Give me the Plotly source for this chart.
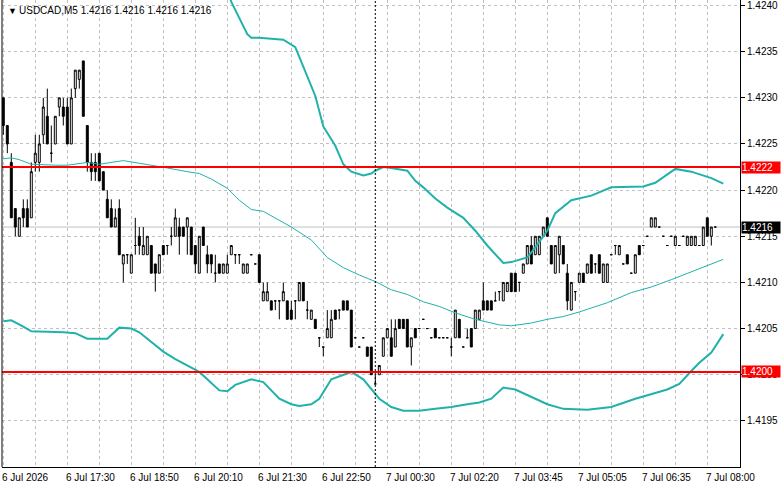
import plotly.graph_objects as go

# ---------------- data ----------------
bar_index = list(range(179))

open_ = [1.4230,1.4227,1.4223,1.4218,1.4215,1.4218,1.4218,1.4217,1.4223,1.4223,
 1.4226,1.4228,1.4224,1.4225,1.4229,1.4229,1.4229,1.4225,1.4231,1.4232,
 1.4234,1.4227,1.4223,1.4223,1.4224,1.4222,1.4219,1.4218,1.4216,1.4218,
 1.4212,1.4213,1.4211,1.4214,1.4215,1.4213,1.4213,1.4214,1.4212,1.4211,
 1.4214,1.4214,1.4215,1.4215,1.4216,1.4216,1.4216,1.4216,1.4214,1.4211,
 1.4216,1.4213,1.4213,1.4211,1.4212,1.4211,1.4211,1.4213,1.4213,1.4213,
 1.4211,1.4211,1.4213,1.4212,1.4213,1.4208,1.4208,1.4208,1.4208,1.4208,
 1.4208,1.4208,1.4207,1.4208,1.4208,1.4210,1.4207,1.4206,1.4206,1.4204,
 1.4203,1.4204,1.4204,1.4207,1.4207,1.4208,1.4208,1.4207,1.4204,1.4203,
 1.4204,1.4203,1.4203,1.4199,1.4200,1.4202,1.4204,1.4204,1.4203,1.4206,
 1.4206,1.4206,1.4203,1.4205,1.4205,1.4206,1.4205,1.4204,1.4205,1.4204,
 1.4204,1.4204,1.4203,1.4204,1.4206,1.4203,1.4204,1.4205,1.4205,1.4206,
 1.4208,1.4208,1.4208,1.4208,1.4209,1.4208,1.4209,1.4211,1.4211,1.4210,
 1.4211,1.4212,1.4214,1.4213,1.4213,1.4215,1.4217,1.4214,1.4211,1.4213,
 1.4214,1.4211,1.4207,1.4209,1.4210,1.4211,1.4211,1.4213,1.4212,1.4213,
 1.4210,1.4210,1.4213,1.4214,1.4213,1.4212,1.4213,1.4211,1.4211,1.4214,
 1.4214,1.4215,1.4216,1.4216,1.4216,1.4215,1.4214,1.4215,1.4214,1.4214,
 1.4215,1.4214,1.4214,1.4214,1.4214,1.4214,1.4217,1.4215,1.4216]

high = [1.4230,1.4227,1.4224,1.4218,1.4217,1.4219,1.4219,1.4223,1.4226,1.4226,
 1.4230,1.4231,1.4227,1.4228,1.4230,1.4230,1.4230,1.4231,1.4233,1.4233,
 1.4234,1.4227,1.4224,1.4224,1.4224,1.4222,1.4220,1.4219,1.4218,1.4219,
 1.4213,1.4213,1.4213,1.4217,1.4216,1.4216,1.4215,1.4214,1.4212,1.4213,
 1.4214,1.4214,1.4216,1.4218,1.4217,1.4216,1.4217,1.4216,1.4214,1.4215,
 1.4216,1.4214,1.4213,1.4213,1.4212,1.4212,1.4213,1.4214,1.4213,1.4213,
 1.4212,1.4212,1.4213,1.4212,1.4213,1.4210,1.4210,1.4208,1.4208,1.4208,
 1.4210,1.4208,1.4208,1.4208,1.4210,1.4210,1.4208,1.4207,1.4206,1.4204,
 1.4203,1.4207,1.4207,1.4207,1.4207,1.4208,1.4208,1.4207,1.4204,1.4203,
 1.4204,1.4203,1.4203,1.4200,1.4201,1.4204,1.4205,1.4206,1.4206,1.4206,
 1.4206,1.4206,1.4204,1.4205,1.4205,1.4206,1.4205,1.4204,1.4205,1.4204,
 1.4204,1.4204,1.4204,1.4207,1.4206,1.4203,1.4205,1.4205,1.4207,1.4207,
 1.4210,1.4208,1.4208,1.4209,1.4209,1.4210,1.4210,1.4211,1.4211,1.4210,
 1.4212,1.4214,1.4215,1.4215,1.4215,1.4216,1.4217,1.4214,1.4214,1.4215,
 1.4214,1.4212,1.4210,1.4209,1.4211,1.4211,1.4212,1.4213,1.4212,1.4213,
 1.4212,1.4212,1.4213,1.4214,1.4214,1.4212,1.4213,1.4211,1.4213,1.4214,
 1.4214,1.4215,1.4217,1.4217,1.4216,1.4215,1.4214,1.4215,1.4215,1.4214,
 1.4215,1.4215,1.4215,1.4215,1.4214,1.4216,1.4217,1.4216,1.4216]

low = [1.4226,1.4224,1.4217,1.4215,1.4215,1.4216,1.4216,1.4217,1.4222,1.4222,
 1.4225,1.4225,1.4223,1.4225,1.4228,1.4227,1.4225,1.4225,1.4230,1.4231,
 1.4228,1.4222,1.4221,1.4221,1.4221,1.4220,1.4217,1.4216,1.4216,1.4213,
 1.4210,1.4212,1.4211,1.4213,1.4213,1.4213,1.4213,1.4211,1.4209,1.4211,
 1.4213,1.4213,1.4214,1.4215,1.4213,1.4215,1.4213,1.4213,1.4211,1.4211,
 1.4214,1.4211,1.4211,1.4210,1.4211,1.4211,1.4211,1.4213,1.4212,1.4212,
 1.4211,1.4211,1.4213,1.4212,1.4210,1.4208,1.4208,1.4207,1.4207,1.4206,
 1.4208,1.4206,1.4206,1.4206,1.4208,1.4208,1.4206,1.4206,1.4205,1.4203,
 1.4202,1.4204,1.4204,1.4206,1.4206,1.4207,1.4207,1.4203,1.4204,1.4203,
 1.4204,1.4202,1.4200,1.4199,1.4200,1.4202,1.4204,1.4202,1.4203,1.4205,
 1.4205,1.4203,1.4201,1.4204,1.4205,1.4206,1.4205,1.4204,1.4204,1.4204,
 1.4204,1.4204,1.4202,1.4204,1.4204,1.4203,1.4204,1.4203,1.4205,1.4206,
 1.4207,1.4207,1.4207,1.4208,1.4208,1.4208,1.4209,1.4209,1.4209,1.4209,
 1.4211,1.4212,1.4212,1.4213,1.4213,1.4215,1.4215,1.4212,1.4211,1.4211,
 1.4212,1.4207,1.4207,1.4208,1.4210,1.4210,1.4211,1.4211,1.4211,1.4211,
 1.4210,1.4210,1.4213,1.4213,1.4213,1.4212,1.4212,1.4211,1.4211,1.4213,
 1.4214,1.4215,1.4216,1.4216,1.4216,1.4215,1.4214,1.4215,1.4214,1.4214,
 1.4215,1.4214,1.4214,1.4214,1.4214,1.4214,1.4215,1.4214,1.4216]

close = [1.4227,1.4225,1.4217,1.4216,1.4217,1.4217,1.4216,1.4222,1.4224,1.4225,
 1.4229,1.4225,1.4224,1.4228,1.4230,1.4228,1.4225,1.4230,1.4233,1.4233,
 1.4228,1.4223,1.4222,1.4222,1.4221,1.4220,1.4217,1.4216,1.4217,1.4213,
 1.4213,1.4213,1.4213,1.4214,1.4214,1.4214,1.4215,1.4211,1.4211,1.4213,
 1.4213,1.4214,1.4215,1.4217,1.4215,1.4215,1.4217,1.4213,1.4212,1.4215,
 1.4214,1.4212,1.4212,1.4211,1.4211,1.4212,1.4212,1.4214,1.4213,1.4213,
 1.4212,1.4212,1.4213,1.4212,1.4210,1.4209,1.4209,1.4207,1.4208,1.4208,
 1.4209,1.4206,1.4206,1.4208,1.4210,1.4208,1.4207,1.4207,1.4205,1.4204,
 1.4203,1.4205,1.4206,1.4206,1.4207,1.4207,1.4207,1.4203,1.4204,1.4203,
 1.4204,1.4202,1.4200,1.4199,1.4201,1.4204,1.4205,1.4202,1.4205,1.4205,
 1.4205,1.4203,1.4204,1.4204,1.4205,1.4206,1.4205,1.4204,1.4204,1.4204,
 1.4204,1.4204,1.4203,1.4207,1.4204,1.4203,1.4204,1.4203,1.4207,1.4207,
 1.4207,1.4207,1.4207,1.4208,1.4209,1.4210,1.4210,1.4209,1.4209,1.4210,
 1.4212,1.4214,1.4212,1.4215,1.4215,1.4216,1.4215,1.4212,1.4214,1.4215,
 1.4212,1.4208,1.4210,1.4209,1.4211,1.4210,1.4212,1.4211,1.4212,1.4211,
 1.4212,1.4212,1.4213,1.4214,1.4214,1.4212,1.4212,1.4211,1.4213,1.4213,
 1.4214,1.4215,1.4217,1.4217,1.4216,1.4215,1.4214,1.4215,1.4215,1.4214,
 1.4215,1.4215,1.4215,1.4215,1.4214,1.4216,1.4215,1.4216,1.4216]

# Bollinger bands (sampled at bar indices)
upper_bar = [56,57,61,62,64,70,73,75,78,80,83,85,87,90,92,93,95,97,101,103,105,108,
             111,115,118,121,125,127,131,133,136,138,142,147,152,160,163,168,172,177,180]
upper_val = [1.42417,1.42404,1.42369,1.42365,1.42365,1.42363,1.42355,1.42334,1.42302,
             1.42269,1.42248,1.42228,1.42220,1.42216,1.42218,1.42221,1.42225,1.42224,
             1.42221,1.42210,1.42203,1.42191,1.42181,1.42170,1.42156,1.42140,1.42121,
             1.42122,1.42127,1.42138,1.42156,1.42175,1.42189,1.42194,1.42203,1.42204,
             1.42208,1.42223,1.42220,1.42213,1.42207]

mid_bar = [0,2,4,7,13,16,21,24,30,36,41,46,49,52,56,59,62,65,68,72,77,81,85,89,93,97,
           101,105,109,113,118,124,127,132,136,140,144,151,157,162,167,173,180]
mid_val = [1.42234,1.42235,1.42233,1.42228,1.42227,1.42227,1.42230,1.42228,1.42232,
           1.42228,1.42224,1.42220,1.42218,1.42212,1.42202,1.42189,1.42179,1.42177,
           1.42170,1.42160,1.42146,1.42127,1.42116,1.42108,1.42101,1.42092,1.42087,
           1.42079,1.42074,1.42067,1.42060,1.42054,1.42053,1.42056,1.42060,1.42063,
           1.42068,1.42078,1.42089,1.42095,1.42103,1.42113,1.42125]

lower_bar = [0,2,5,7,15,18,21,26,29,32,34,37,40,43,47,49,51,54,56,58,62,65,69,72,74,77,
             79,82,87,90,94,97,100,104,108,112,116,119,122,125,128,132,136,140,146,152,
             158,166,169,172,174,177,180]
lower_val = [1.42058,1.42059,1.42052,1.42047,1.42046,1.42045,1.42039,1.42039,1.42051,
             1.42050,1.42046,1.42036,1.42025,1.42017,1.42008,1.42003,1.41995,1.41983,
             1.41982,1.41989,1.41995,1.41992,1.41974,1.41968,1.41966,1.41968,1.41974,
             1.41995,1.42003,1.41995,1.41974,1.41965,1.41961,1.41961,1.41963,1.41965,
             1.41968,1.41970,1.41974,1.41986,1.41984,1.41976,1.41968,1.41963,1.41962,
             1.41965,1.41974,1.41984,1.41990,1.42004,1.42013,1.42024,1.42044]

time_tick_bars = [0,16,32,48,64,80,96,112,128,144,160,176]
time_tick_text = ["6 Jul 2026","6 Jul 17:30","6 Jul 18:50","6 Jul 20:10","6 Jul 21:30",
                  "6 Jul 22:50","7 Jul 00:30","7 Jul 02:20","7 Jul 03:45","7 Jul 05:05",
                  "7 Jul 06:35","7 Jul 08:00"]
price_ticks = [1.4195,1.4200,1.4205,1.4210,1.4215,1.4220,1.4225,1.4230,1.4235,1.4240]
price_tick_text = ["1.4195","1.4200","1.4205","1.4210","1.4215","1.4220","1.4225",
                   "1.4230","1.4235","1.4240"]
level_prices = [1.42225, 1.42003]
level_text = ["1.4222", "1.4200"]
bid_price = 1.4216
bid_text = "1.4216"
separator_bar = 93
header_text = "USDCAD,M5 1.4216 1.4216 1.4216 1.4216"

# ---------------- styling ----------------
FONT = "Liberation Sans"
TEAL = "#20B2AA"
GRID = "#C0C0C0"

fig = go.Figure()

fig.add_trace(go.Candlestick(
    x=bar_index, open=open_, high=high, low=low, close=close,
    increasing=dict(line=dict(color="black", width=1), fillcolor="white"),
    decreasing=dict(line=dict(color="black", width=1), fillcolor="black"),
    whiskerwidth=0, showlegend=False, hoverinfo="skip"))

fig.add_trace(go.Scatter(x=upper_bar, y=upper_val, mode="lines",
                         line=dict(color=TEAL, width=2), showlegend=False, hoverinfo="skip"))
fig.add_trace(go.Scatter(x=mid_bar, y=mid_val, mode="lines",
                         line=dict(color=TEAL, width=1), showlegend=False, hoverinfo="skip"))
fig.add_trace(go.Scatter(x=lower_bar, y=lower_val, mode="lines",
                         line=dict(color=TEAL, width=2), showlegend=False, hoverinfo="skip"))

shapes = []
# bid line
shapes.append(dict(type="line", xref="paper", x0=0, x1=1, yref="y", y0=bid_price, y1=bid_price,
                   line=dict(color=GRID, width=1), layer="below"))
for lv in level_prices:
    shapes.append(dict(type="line", xref="paper", x0=0, x1=1, yref="y", y0=lv, y1=lv,
                       line=dict(color="red", width=2), layer="above"))
shapes.append(dict(type="line", xref="x", x0=separator_bar, x1=separator_bar, yref="paper",
                   y0=0, y1=1, line=dict(color="black", width=1, dash="2px,2px"), layer="above"))
# left border
shapes.append(dict(type="line", xref="paper", x0=0, x1=0, yref="paper", y0=0, y1=1,
                   line=dict(color="black", width=1), layer="above"))

annotations = []
for b, t in zip(time_tick_bars, time_tick_text):
    annotations.append(dict(x=b, xref="x", y=0, yref="paper", yanchor="top", xanchor="left",
                            yshift=-3, xshift=-3, text=t, showarrow=False,
                            font=dict(family=FONT, size=10, color="black")))
for lv, t in zip(level_prices, level_text):
    annotations.append(dict(x=1, xref="paper", y=lv, yref="y", xanchor="left", yanchor="middle",
                            xshift=1, text=t, showarrow=False, bgcolor="red", borderpad=0,
                            font=dict(family=FONT, size=10, color="white"), width=38, align="left"))
annotations.append(dict(x=1, xref="paper", y=bid_price, yref="y", xanchor="left", yanchor="middle",
                        xshift=1, text=bid_text, showarrow=False, bgcolor="black", borderpad=0,
                        font=dict(family=FONT, size=10, color="white"), width=38, align="left"))
annotations.append(dict(x=0, xref="paper", y=1, yref="paper", xanchor="left", yanchor="top",
                        xshift=4, yshift=-4, text="▼", showarrow=False,
                        font=dict(family=FONT, size=9, color="black")))
annotations.append(dict(x=0, xref="paper", y=1, yref="paper", xanchor="left", yanchor="top",
                        xshift=15, yshift=-3, text=header_text, showarrow=False,
                        font=dict(family=FONT, size=10, color="black")))

fig.update_layout(
    width=781, height=489,
    margin=dict(l=2, r=41, t=0, b=22),
    paper_bgcolor="white", plot_bgcolor="white",
    shapes=shapes, annotations=annotations,
    xaxis=dict(range=[-0.325, 184.175], tickmode="linear", tick0=0, dtick=8,
               showticklabels=False, showgrid=True, gridcolor=GRID, griddash="3px,3px",
               gridwidth=1, showline=True, linecolor="black", linewidth=1, zeroline=False,
               rangeslider=dict(visible=False), fixedrange=True),
    yaxis=dict(side="right", range=[1.4190, 1.42406], tickmode="array", tickvals=price_ticks,
               ticktext=price_tick_text, showgrid=True, gridcolor=GRID, griddash="3px,3px",
               gridwidth=1, showline=True, linecolor="black", linewidth=1, ticks="outside",
               ticklen=4, tickcolor="black", zeroline=False,
               tickfont=dict(family=FONT, size=10, color="black")),
    font=dict(family=FONT, size=10, color="black"),
)

fig.write_html("out.html")
